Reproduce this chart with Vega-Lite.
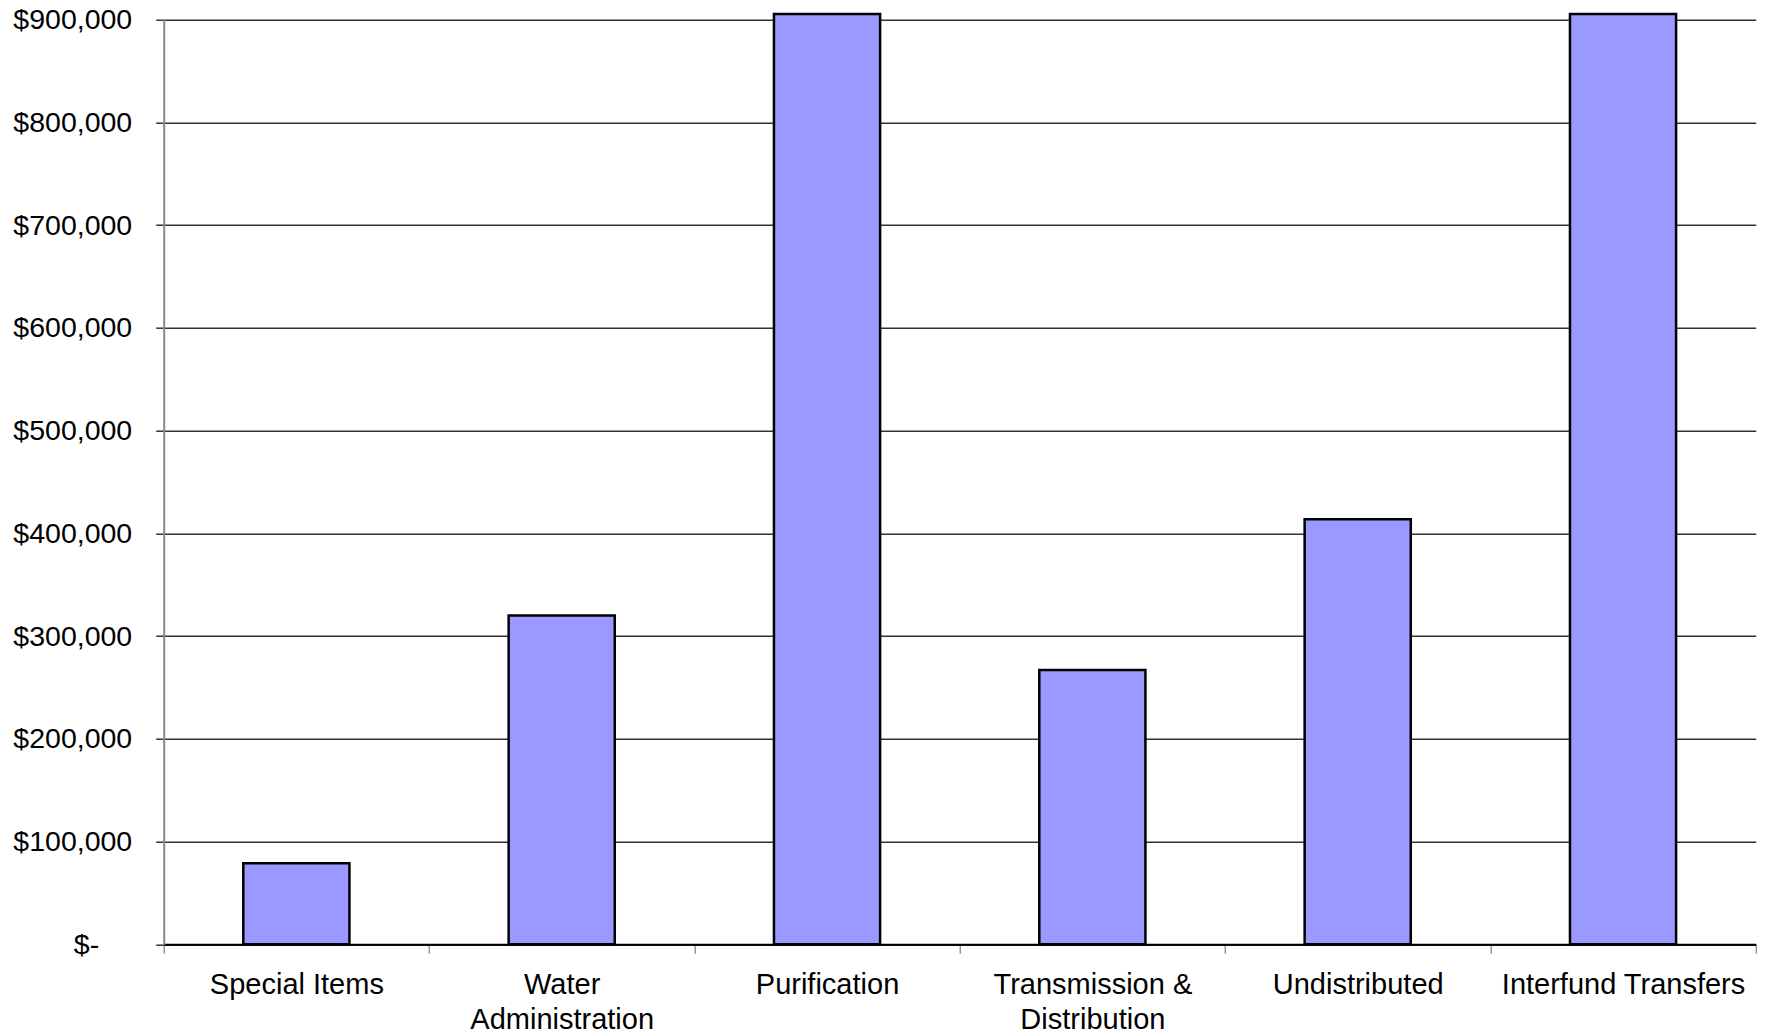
{
  "$schema": "https://vega.github.io/schema/vega-lite/v6.json",
  "autosize": {"type": "none"},
  "padding": {"left": 163.7, "top": 19.7, "right": 11.3, "bottom": 91.7},
  "width": 1592,
  "height": 924.6,
  "background": "white",
  "config": {
    "view": {"stroke": null},
    "font": "Liberation Sans"
  },
  "data": {
    "values": [
      {"category": "Special Items", "amount": 78900},
      {"category": "Water Administration", "amount": 320000},
      {"category": "Purification", "amount": 905600},
      {"category": "Transmission & Distribution", "amount": 267000},
      {"category": "Undistributed", "amount": 413700},
      {"category": "Interfund Transfers", "amount": 905600}
    ]
  },
  "mark": {"type": "bar", "color": "#9999FF", "stroke": "#000000", "strokeWidth": 2.5, "width": {"band": 0.4}, "clip": false},
  "encoding": {
    "x": {
      "field": "category",
      "type": "nominal",
      "sort": null,
      "title": null,
      "scale": {"paddingInner": 0, "paddingOuter": 0},
      "axis": {
        "labelAngle": 0,
        "labelFontSize": 29,
        "labelColor": "#000000",
        "labelPadding": 17.5,
        "labelBaseline": "top",
        "labelLineHeight": 35,
        "labelLimit": 0,
        "tickBand": "extent",
        "tickSize": 9,
        "tickColor": "#666666",
        "tickWidth": 1,
        "domainColor": "#000000",
        "domainWidth": 2,
        "labelExpr": "datum.label == 'Water Administration' ? ['Water', 'Administration'] : datum.label == 'Transmission & Distribution' ? ['Transmission &', 'Distribution'] : datum.label"
      }
    },
    "y": {
      "field": "amount",
      "type": "quantitative",
      "title": null,
      "scale": {"domain": [0, 900000], "nice": false},
      "axis": {
        "values": [0, 100000, 200000, 300000, 400000, 500000, 600000, 700000, 800000, 900000],
        "labelExpr": "datum.value == 0 ? '$-' : '$' + format(datum.value, ',.0f')",
        "labelFontSize": 28.5,
        "labelColor": "#000000",
        "labelPadding": {"condition": {"test": "datum.value == 0", "value": 57}, "value": 24},
        "tickSize": 8,
        "tickColor": "#333333",
        "tickWidth": 1.5,
        "grid": true,
        "gridColor": "#333333",
        "gridWidth": 1.5,
        "domainColor": "#888888",
        "domainWidth": 2
      }
    }
  }
}
